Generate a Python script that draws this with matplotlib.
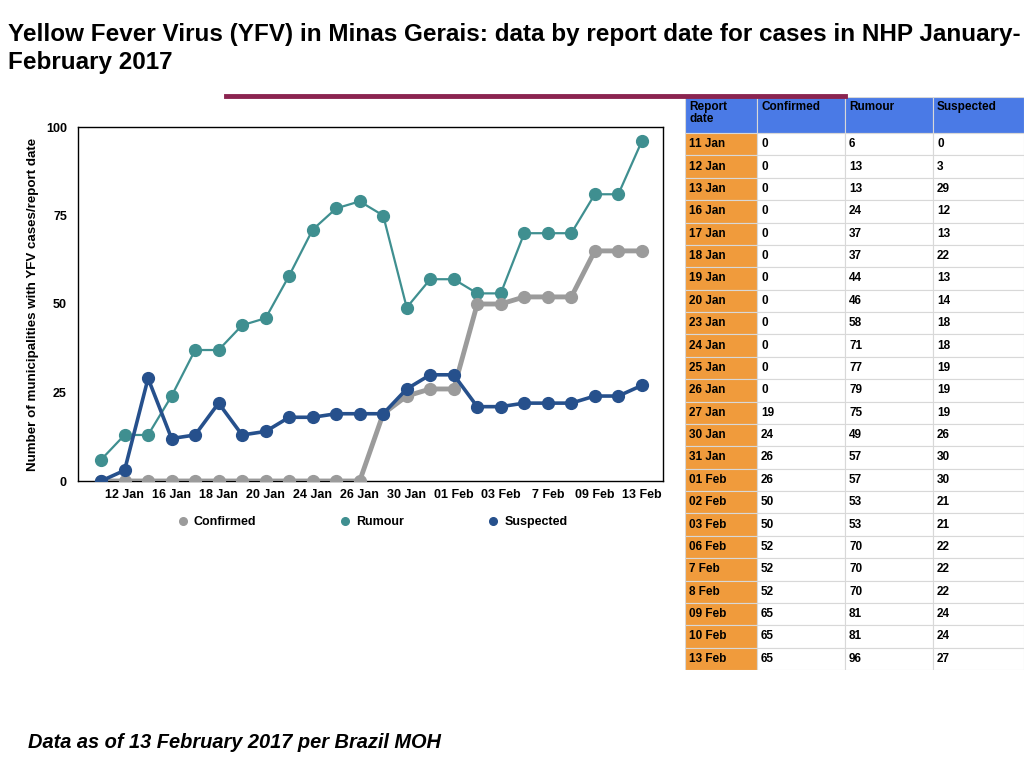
import numpy as np
import matplotlib
matplotlib.use("Agg")
import matplotlib.pyplot as plt
from matplotlib.patches import Rectangle
from matplotlib.lines import Line2D

plt.rcParams['font.family'] = ['Liberation Sans', 'DejaVu Sans']
plt.rcParams['font.weight'] = 'bold'

# data by report date
dates = ['11 Jan', '12 Jan', '13 Jan', '16 Jan', '17 Jan', '18 Jan', '19 Jan', '20 Jan',
         '23 Jan', '24 Jan', '25 Jan', '26 Jan', '27 Jan', '30 Jan', '31 Jan', '01 Feb',
         '02 Feb', '03 Feb', '06 Feb', '7 Feb', '8 Feb', '09 Feb', '10 Feb', '13 Feb']
confirmed = [0, 0, 0, 0, 0, 0, 0, 0, 0, 0, 0, 0, 19, 24, 26, 26, 50, 50, 52, 52, 52, 65, 65, 65]
rumour = [6, 13, 13, 24, 37, 37, 44, 46, 58, 71, 77, 79, 75, 49, 57, 57, 53, 53, 70, 70, 70, 81, 81, 96]
suspected = [0, 3, 29, 12, 13, 22, 13, 14, 18, 18, 19, 19, 19, 26, 30, 30, 21, 21, 22, 22, 22, 24, 24, 27]

# tick labels shown on the chart axis
xtick_pos = [1, 3, 5, 7, 9, 11, 13, 15, 17, 19, 21, 23]
xtick_lab = ['12 Jan', '16 Jan', '18 Jan', '20 Jan', '24 Jan', '26 Jan', '30 Jan',
             '01 Feb', '03 Feb', '7 Feb', '09 Feb', '13 Feb']

c_conf = '#9b9b9b'
c_rum = '#3f8f90'
c_sus = '#26508c'

W, H = 1024, 768
fig = plt.figure(figsize=(10.24, 7.68), dpi=100)

def fx(px):
    return px / W

def fy(py):
    return 1 - py / H

# titles
fig.text(fx(8), fy(35), 'Yellow Fever Virus (YFV) in Minas Gerais: data by report date for cases in NHP January-',
         fontsize=17.5, fontweight='bold', va='center', ha='left')
fig.text(fx(8), fy(62), 'February 2017', fontsize=17.5, fontweight='bold', va='center', ha='left')
fig.add_artist(Line2D([fx(226), fx(845)], [fy(96), fy(96)], color='#8b2450', lw=3.5, zorder=10))

# line chart
x = np.arange(len(dates))
ax = fig.add_axes([fx(78), fy(481), fx(663 - 78), (481 - 127) / H])
ax.plot(x, rumour, color=c_rum, lw=1.6, marker='o', ms=8.5, zorder=3)
ax.plot(x, confirmed, color=c_conf, lw=3.5, marker='o', ms=8.5, zorder=4)
ax.plot(x, suspected, color=c_sus, lw=2.6, marker='o', ms=8.5, zorder=5)
ax.set_xlim(-0.98, 23.9)
ax.set_ylim(0, 100)
ax.set_yticks([0, 25, 50, 75, 100])
ax.set_xticks(xtick_pos)
ax.set_xticklabels(xtick_lab)
ax.tick_params(length=0, labelsize=9)
ax.tick_params(axis='x', pad=6)
ax.tick_params(axis='y', pad=8)
for lab in ax.get_xticklabels() + ax.get_yticklabels():
    lab.set_fontweight('bold')
for s in ax.spines.values():
    s.set_linewidth(1.0)
ax.set_ylabel('Number of municipalities with YFV cases/report date', fontsize=9.6,
              fontweight='bold', labelpad=5)

handles = [Line2D([], [], ls='none', marker='o', ms=5.5, color=c) for c in (c_conf, c_rum, c_sus)]
fig.legend(handles, ['Confirmed', 'Rumour', 'Suspected'], ncol=3, frameon=False,
           loc='center', bbox_to_anchor=(fx(372), fy(522)), fontsize=9,
           columnspacing=6.6, handletextpad=0.4, handlelength=1.0)

# data table
col_x = [0, 72, 160, 248, 339]
hdr_h = 36
row_h = (573 - hdr_h) / len(dates)
tax = fig.add_axes([fx(685), fy(670), fx(339), 573 / H])
tax.set_xlim(0, 339)
tax.set_ylim(573, 0)
tax.axis('off')
headers = ['Report\ndate', 'Confirmed', 'Rumour', 'Suspected']
for j, h in enumerate(headers):
    tax.add_patch(Rectangle((col_x[j], 0), col_x[j + 1] - col_x[j], hdr_h,
                            facecolor='#4a7ae6', edgecolor='#d8d8d8', lw=0.8))
    tax.text(col_x[j] + 4, 4, h, fontsize=8.5, fontweight='bold', va='top', ha='left',
             linespacing=0.95)
for i, d in enumerate(dates):
    y0 = hdr_h + i * row_h
    vals = [d, confirmed[i], rumour[i], suspected[i]]
    for j, v in enumerate(vals):
        fc = '#f09b3c' if j == 0 else 'white'
        tax.add_patch(Rectangle((col_x[j], y0), col_x[j + 1] - col_x[j], row_h,
                                facecolor=fc, edgecolor='#d8d8d8', lw=0.8))
        tax.text(col_x[j] + 4, y0 + row_h / 2, str(v), fontsize=8.5, fontweight='bold',
                 va='center', ha='left')

# footer
fig.text(fx(28), fy(743), 'Data as of 13 February 2017 per Brazil MOH', fontsize=14.4,
         fontweight='bold', fontstyle='italic', va='center', ha='left')

fig.savefig('out.png', dpi=100)
